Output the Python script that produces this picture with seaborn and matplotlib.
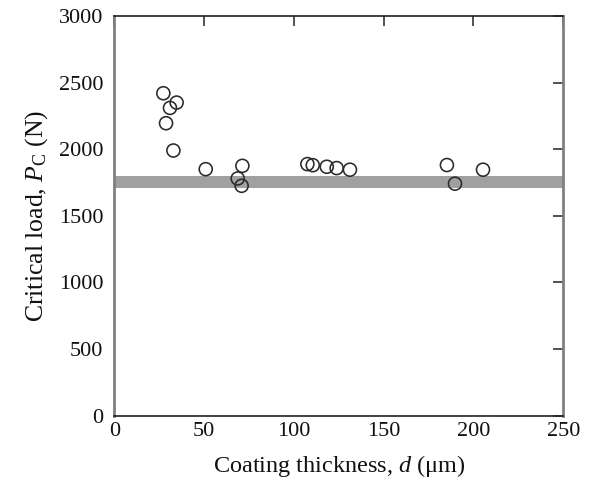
import matplotlib
matplotlib.use("Agg")
import matplotlib.pyplot as plt
import seaborn as sns
import pandas as pd

# Coating thickness (um) and measured critical load (N)
thickness = [27.3, 34.7, 31.0, 28.8, 32.9, 50.9, 71.3, 68.7, 70.9,
             107.5, 110.5, 118.3, 123.8, 131.2, 185.2, 189.7, 205.3]
critical_load = [2420, 2350, 2310, 2195, 1990, 1850, 1875, 1780, 1725,
                 1888, 1880, 1868, 1858, 1846, 1881, 1741, 1846]

# Shaded band of the substrate reference load (N)
band_limits = [1706, 1796]

x_ticks = [0, 50, 100, 150, 200, 250]
y_ticks = [0, 500, 1000, 1500, 2000, 2500, 3000]

sns.set_theme(style="white")
plt.rcParams["font.family"] = ["Liberation Serif", "DejaVu Serif"]
plt.rcParams["mathtext.fontset"] = "custom"
plt.rcParams["mathtext.rm"] = "Liberation Serif"
plt.rcParams["mathtext.it"] = "Liberation Serif:italic"

df = pd.DataFrame({"d": thickness, "Pc": critical_load})

fig = plt.figure(figsize=(5.92, 4.87), dpi=100)
ax = fig.add_axes([0.1931, 0.1468, 0.7584, 0.8203])

ax.axhspan(band_limits[0], band_limits[1], color="#a0a0a0", lw=0, zorder=1)

sns.scatterplot(data=df, x="d", y="Pc", ax=ax, s=88, marker="o",
                facecolor="none", edgecolor="#2a2a2a", linewidth=1.15,
                zorder=3, legend=False)

ax.set_xlim(0, 250)
ax.set_ylim(0, 3000)
ax.set_xticks(x_ticks)
ax.set_yticks(y_ticks)

ax.tick_params(axis="both", which="major", direction="in", length=7.5,
               width=1.2, color="#333333", labelsize=16, labelcolor="#111111",
               top=True, right=True)
ax.tick_params(axis="x", pad=5)
ax.tick_params(axis="y", pad=8)

for side in ["top", "bottom"]:
    ax.spines[side].set_color("#222222")
    ax.spines[side].set_linewidth(1.2)
for side in ["left", "right"]:
    ax.spines[side].set_color("#808080")
    ax.spines[side].set_linewidth(2.0)

ax.set_xlabel(r"Coating thickness, $d$ (μm)", fontsize=17.5, labelpad=8,
              color="#111111")
ax.set_ylabel(r"Critical load, $P_{\rm C}$ (N)", fontsize=18.5, labelpad=6,
              color="#111111")

fig.savefig("out.png", dpi=100)
